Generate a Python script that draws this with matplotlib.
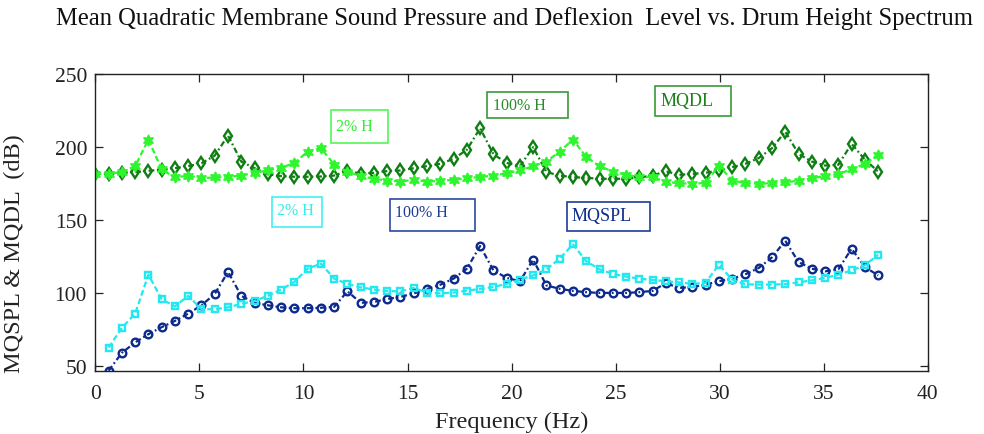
import numpy as np
import matplotlib
matplotlib.use("Agg")
import matplotlib.pyplot as plt
from matplotlib.patches import Rectangle

plt.rcParams['font.family'] = ['Liberation Serif', 'DejaVu Serif']

# frequency grid (Hz): MQDL starts at 0 Hz, MQSPL at the first step
df = 0.6375
freq_dl = np.arange(60) * df
freq_spl = np.arange(1, 60) * df

# MQSPL, 100% drum height (dark blue circles)
mqspl_100 = [46.6, 58.9, 66.0, 71.7, 76.5, 80.8, 85.8, 91.5, 99.3, 114.4,
             98.0, 93.2, 91.5, 90.1, 89.5, 89.5, 89.8, 90.4, 101.1, 93.2,
             93.8, 95.8, 97.3, 99.6, 102.7, 105.6, 109.8, 116.6, 132.2, 115.5,
             110.3, 108.0, 122.8, 105.1, 102.8, 101.4, 100.5, 100.0, 100.0, 100.0,
             100.5, 101.4, 106.7, 103.4, 104.1, 105.7, 108.0, 109.8, 112.8, 117.1,
             124.4, 135.8, 121.2, 116.6, 114.8, 116.2, 130.3, 117.8, 112.0]

# MQSPL, 2% drum height (cyan squares)
mqspl_2 = [62.5, 76.0, 85.8, 112.5, 95.6, 90.8, 98.0, 88.8, 88.8, 90.1,
           92.5, 94.5, 98.0, 102.3, 107.5, 116.6, 120.1, 109.8, 106.2, 103.8,
           102.3, 101.2, 101.1, 103.4, 100.2, 99.7, 100.2, 101.6, 102.7, 104.1,
           106.2, 109.1, 112.0, 116.2, 123.5, 133.3, 121.7, 116.2, 113.0, 111.2,
           109.8, 108.9, 108.0, 107.2, 106.2, 107.0, 119.4, 109.1, 105.9, 105.7,
           105.7, 106.0, 107.3, 108.6, 110.3, 112.5, 115.5, 118.9, 126.2]

# MQDL, 100% drum height (dark green diamonds)
mqdl_100 = [181.9, 181.9, 182.4, 182.9, 183.8, 184.5, 185.6, 187.0, 189.0, 194.2,
            208.0, 190.1, 185.6, 181.5, 180.1, 179.7, 179.7, 179.9, 180.5, 183.8,
            181.9, 182.4, 183.6, 184.0, 185.6, 187.0, 188.6, 192.0, 198.2, 213.0,
            195.2, 189.2, 187.0, 200.0, 182.9, 180.5, 179.4, 179.0, 178.3, 178.3,
            178.3, 179.2, 180.5, 183.5, 181.0, 181.7, 182.4, 184.0, 186.3, 188.6,
            192.5, 199.3, 210.7, 195.4, 190.1, 187.4, 187.9, 202.3, 191.5, 183.3]

# MQDL, 2% drum height (bright green stars)
mqdl_2 = [181.5, 181.9, 182.9, 187.0, 205.2, 184.7, 179.2, 180.5, 178.8, 179.2,
          179.7, 180.5, 182.4, 184.0, 186.0, 189.0, 197.0, 199.3, 188.1, 183.3,
          180.1, 178.3, 177.1, 176.4, 177.6, 176.4, 176.9, 177.6, 178.8, 179.5,
          180.5, 182.2, 184.0, 187.0, 190.1, 197.0, 205.2, 193.2, 187.0, 183.3,
          181.0, 179.5, 179.5, 176.2, 175.2, 174.9, 175.5, 187.4, 177.1, 175.3,
          174.9, 175.3, 176.0, 176.9, 178.8, 180.1, 181.7, 184.7, 188.6, 194.7]

c_blue = '#0B2A8C'
c_cyan = '#22E8F0'
c_dgreen = '#0E7E12'
c_lgreen = '#2EF52E'

dashdot = (0, (2.6, 1.3, 0.8, 1.3))
dashed = (0, (2.6, 1.4))

fig = plt.figure(figsize=(9.84, 4.35), dpi=100)
ax = fig.add_axes([0.0969, 0.1441, 0.8460, 0.6828])

ax.plot(freq_spl, mqspl_100, linestyle=dashdot, color=c_blue, lw=1.6, marker='o',
        ms=5.5, mfc='none', mec=c_blue, mew=1.7)
ax.plot(freq_spl, mqspl_2, linestyle=dashed, color=c_cyan, lw=1.6, marker='s',
        ms=4.5, mfc='none', mec=c_cyan, mew=1.7)
ax.plot(freq_dl, mqdl_100, linestyle=dashdot, color=c_dgreen, lw=1.6, marker='d',
        ms=6.5, mfc='none', mec=c_dgreen, mew=1.7)
ax.plot(freq_dl, mqdl_2, linestyle=dashed, color=c_lgreen, lw=1.6, marker=(6, 1, 0),
        ms=8, mfc=c_lgreen, mec=c_lgreen, mew=1.0)

ax.set_xlim(0, 40)
ax.set_ylim(46.2, 250)
ax.set_xticks(np.arange(0, 41, 5))
ax.set_yticks([50, 100, 150, 200, 250])
ax.tick_params(direction='in', length=6, width=0.9, top=True, right=True,
               labelsize=15.5, colors='#222222')
ax.tick_params(axis='x', pad=9)
ax.tick_params(axis='y', pad=6)
for sp in ax.spines.values():
    sp.set_linewidth(1.0)
    sp.set_color('#222222')

ax.set_xlabel('Frequency (Hz)', fontsize=17.5, color='#222222', labelpad=6)
ax.set_ylabel('MQSPL & MQDL  (dB)', fontsize=17.5, color='#222222')
ax.yaxis.set_label_coords(-0.0844, 0.40)

fig.text(0.523, 1 - 19 / 435,
         'Mean Quadratic Membrane Sound Pressure and Deflexion  Level vs. Drum Height Spectrum',
         ha='center', va='center', fontsize=17.7, color='#111111')

# annotation boxes: (text, text colour, edge colour, x0, x1, y0, y1, text x, text y, size)
notes = [
    ('2% H', '#33EE33', '#55F555', 11.32, 14.06, 202.9, 225.8, 11.57, 214.6, 11.5),
    ('100% H', '#2A8A2A', '#3A9A3A', 18.82, 22.69, 219.9, 238.1, 19.13, 229.0, 11.5),
    ('MQDL', '#1A801A', '#3A9A3A', 26.87, 30.56, 221.6, 241.8, 27.15, 231.9, 13),
    ('2% H', '#33EEEE', '#44F0F0', 8.48, 10.88, 145.2, 165.8, 8.75, 156.6, 11.5),
    ('100% H', '#1E3C94', '#2A4AA0', 14.17, 18.22, 142.2, 164.6, 14.40, 155.7, 11.5),
    ('MQSPL', '#0E2C8E', '#1E3C9A', 22.66, 26.63, 142.5, 162.3, 22.90, 153.2, 13),
]
for s, tc, ec, x0, x1, y0, y1, tx, ty, fs in notes:
    ax.add_patch(Rectangle((x0, y0), x1 - x0, y1 - y0, fill=True, fc='white',
                           ec=ec, lw=1.2, zorder=4))
    ax.text(tx, ty, s, color=tc, fontsize=fs, ha='left', va='center', zorder=5)

fig.savefig('out.png', dpi=100)
